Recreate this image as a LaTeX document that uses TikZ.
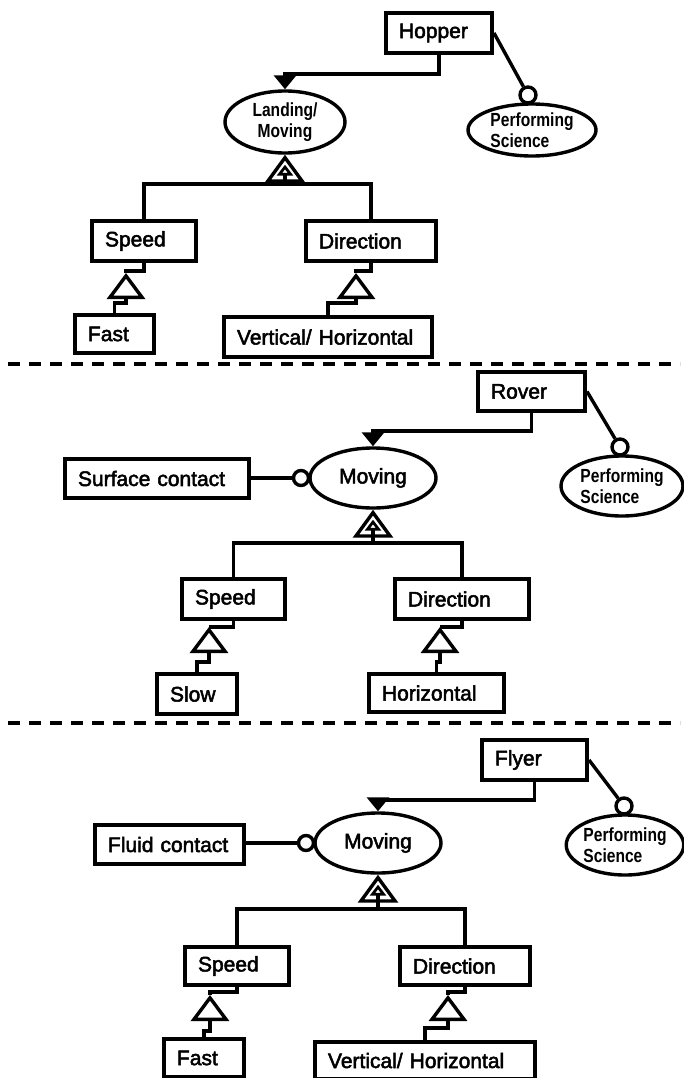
\documentclass[tikz,border=0pt]{standalone}
\usepackage{fontspec}
\setmainfont{Liberation Sans}
\newfontfamily\labelfont{Liberation Sans}[FakeBold=2.4]
\newfontfamily\ovalfont{Liberation Sans}[FakeStretch=0.82]
\usetikzlibrary{shapes.geometric, arrows.meta, calc}

\tikzset{
  box/.style={draw, line width=4pt, rectangle, anchor=north west,
    inner xsep=13pt, inner ysep=0pt, align=left,
    font=\labelfont\fontsize{21}{25}\selectfont},
  oval/.style={draw, line width=3.4pt, ellipse, inner sep=0pt},
  bigoval/.style={oval, minimum width=126pt, minimum height=60pt,
    font=\labelfont\fontsize{21}{25}\selectfont},
  smalltext/.style={font=\ovalfont\bfseries\fontsize{19}{21}\selectfont},
  ball/.style={draw, circle, line width=3.4pt, minimum size=16pt,
    inner sep=0pt, fill=white},
  link/.style={line width=3.4pt},
  assoc/.style={link, -{Triangle[width=22pt, length=14pt]}},
  gen/.style={link, -{Triangle[open, width=38pt, length=26pt]}},
  genbig/.style={link, -{Triangle[open, width=40pt, length=28pt]}},
  gensmall/.style={link, -{Triangle[open, width=16pt, length=11pt]}},
  divider/.style={line width=3.6pt, dash pattern=on 12pt off 9pt}
}

\begin{document}
\begin{tikzpicture}[x=1pt, y=-1pt]
\useasboundingbox (0,0) rectangle (684,1078);
\fill[white] (0,0) rectangle (684,1078);

% ---------- Hopper ----------
\node[box, text width=80pt, minimum height=40pt] (hopper) at (384,11) {Hopper};
\node[oval, minimum width=120pt, minimum height=62pt, smalltext, align=center]
  (landing) at (285,122) {Landing/\\Moving};
\node[oval, minimum width=128pt, minimum height=52pt, smalltext, align=left]
  (perf1) at (532,130) {Performing\\Science};
\node[ball] (ball1) at (528,95) {};
\node[box, text width=78pt, minimum height=40pt] (speed1) at (90,219) {Speed};
\node[box, text width=104pt, minimum height=40pt] (dir1) at (304,219) {Direction};
\node[box, text width=53pt, minimum height=38pt] (fast1) at (73,313) {Fast};
\node[box, text width=182pt, minimum height=40pt] (vh1) at (222,315) {Vertical/ Horizontal};

\draw[assoc] (hopper.south) -- ++(0,19) -| (landing.north);
\draw[link] (hopper.east) -- (ball1);
\coordinate (b1) at (285,184);
\draw[link] (speed1.north) |- (b1) -| (dir1.north);
\draw[genbig] (b1) -- (landing.south);
\draw[gensmall] (b1) -- ($(landing.south)+(0,10)$);
\coordinate (s1t) at (126,273);
\draw[link] (speed1.south) -- ++(0,8) -| (s1t);
\draw[gen] (fast1.north) -- ++(0,-10) -| (s1t);
\coordinate (d1t) at (356,273);
\draw[link] (dir1.south) -- ++(0,8) -| (d1t);
\draw[gen] (vh1.north) -- ++(0,-12) -| (d1t);

\draw[divider] (8,364) -- (680,364);

% ---------- Rover ----------
\node[box, text width=81pt, minimum height=39pt] (rover) at (476,370) {Rover};
\node[bigoval] (moving2) at (373,478) {Moving};
\node[box, text width=158pt, minimum height=39pt] (surface) at (63,457) {Surface contact};
\node[ball, minimum size=15pt] (ball2s) at (301,478) {};
\node[oval, minimum width=122pt, minimum height=60pt, smalltext, align=left]
  (perf2) at (622,486) {Performing\\Science};
\node[ball] (ball2p) at (620,447) {};
\node[box, text width=77pt, minimum height=40pt] (speed2) at (180,577) {Speed};
\node[box, text width=108pt, minimum height=40pt] (dir2) at (393,577) {Direction};
\node[box, text width=54pt, minimum height=40pt] (slow) at (155,672) {Slow};
\node[box, text width=109pt, minimum height=38pt] (horiz) at (367,672) {Horizontal};

\draw[assoc] (rover.south) -- ++(0,18) -| (moving2.north);
\draw[link] (rover.east) -- (ball2p);
\draw[link] (surface.east |- ball2s) -- (ball2s);
\coordinate (b2) at (373,543);
\draw[link] (speed2.north) |- (b2) -| (dir2.north);
\draw[genbig] (b2) -- (moving2.south);
\draw[gensmall] (b2) -- ($(moving2.south)+(0,10)$);
\coordinate (s2t) at (209,627);
\draw[link] (speed2.south) -- ++(0,6) -| (s2t);
\draw[gen] (slow.north) -- ++(0,-10) -| (s2t);
\coordinate (d2t) at (440,627);
\draw[link] (dir2.south) -- ++(0,6) -| (d2t);
\draw[gen] (horiz.north) -- ++(0,-10) -| (d2t);

\draw[divider] (8,723) -- (680,723);

% ---------- Flyer ----------
\node[box, text width=79pt, minimum height=40pt] (flyer) at (480,738) {Flyer};
\node[bigoval] (moving3) at (378,843) {Moving};
\node[box, text width=123pt, minimum height=39pt] (fluid) at (93,823) {Fluid contact};
\node[ball, minimum size=15pt] (ball3f) at (306,843) {};
\node[oval, minimum width=116pt, minimum height=60pt, smalltext, align=left]
  (perf3) at (625,845) {Performing\\Science};
\node[ball] (ball3p) at (624,806) {};
\node[box, text width=78pt, minimum height=38pt] (speed3) at (183,945) {Speed};
\node[box, text width=104pt, minimum height=38pt] (dir3) at (398,945) {Direction};
\node[box, text width=54pt, minimum height=38pt] (fast3) at (162,1037) {Fast};
\node[box, text width=194pt, minimum height=37pt] (vh3) at (313,1040) {Vertical/ Horizontal};

\draw[assoc] (flyer.south) -- ++(0,18) -| (moving3.north);
\draw[link] (flyer.east) -- (ball3p);
\draw[link] (fluid.east |- ball3f) -- (ball3f);
\coordinate (b3) at (378,909);
\draw[link] (speed3.north) |- (b3) -| (dir3.north);
\draw[genbig] (b3) -- (moving3.south);
\draw[gensmall] (b3) -- ($(moving3.south)+(0,10)$);
\coordinate (s3t) at (210,995);
\draw[link] (speed3.south) -- ++(0,5) -| (s3t);
\draw[gen] (fast3.north) -- ++(0,-6) -| (s3t);
\coordinate (d3t) at (448,995);
\draw[link] (dir3.south) -- ++(0,5) -| (d3t);
\draw[gen] (vh3.north) -- ++(0,-12) -| (d3t);
\end{tikzpicture}
\end{document}
